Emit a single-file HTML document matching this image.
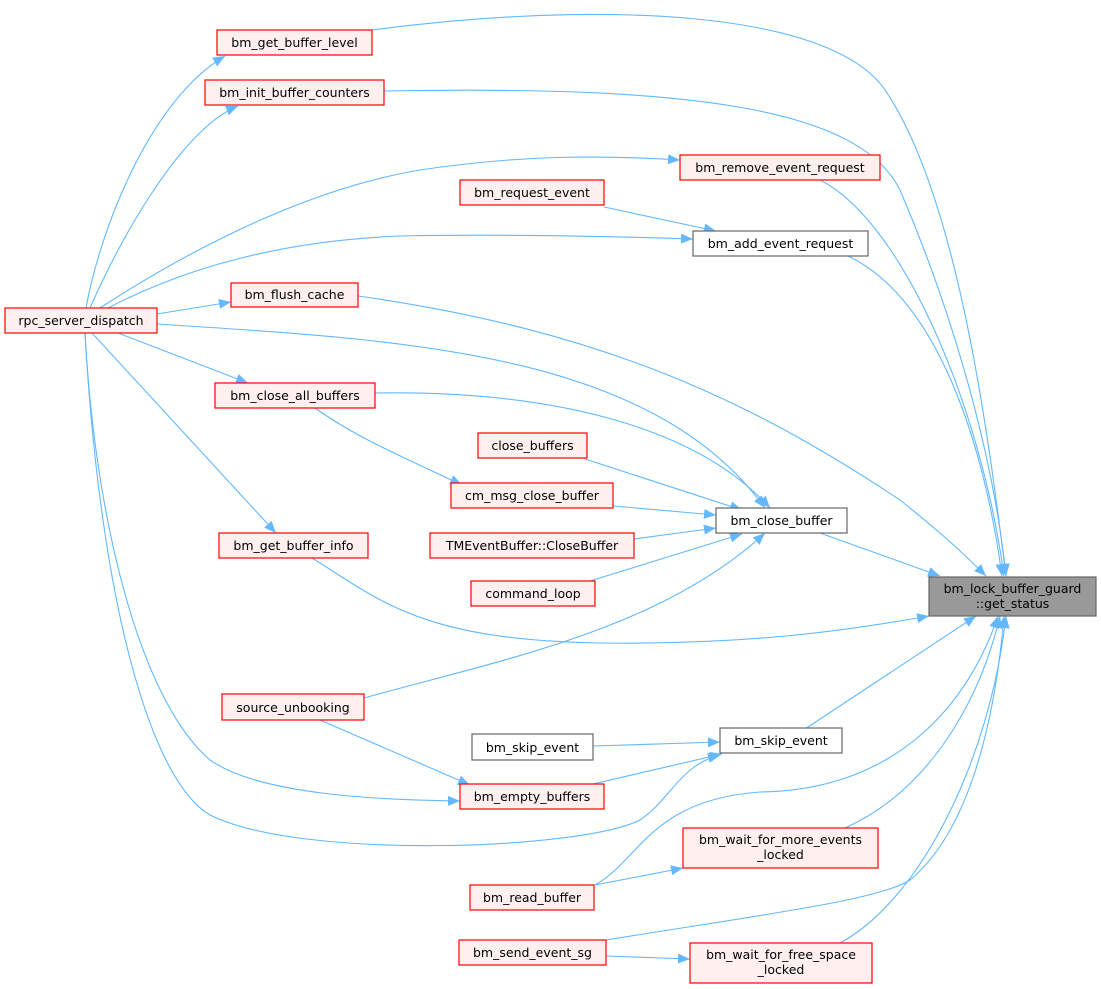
<!DOCTYPE html>
<html><head><meta charset="utf-8"><style>
html,body{margin:0;padding:0;background:#fff;}
svg{display:block;}
text{font-family:"DejaVu Sans","Liberation Sans",sans-serif;font-size:12.5px;fill:#000;}
.r{fill:#fff0f0;stroke:#ff0000;stroke-width:1.2;}
.w{fill:#fff;stroke:#666;stroke-width:1.2;}
.g{fill:#999;stroke:#666;stroke-width:1.2;}
.e{fill:none;stroke:#63b8ff;stroke-width:1.1;}
</style></head><body>
<svg width="1101" height="989" viewBox="0 0 1101 989" xmlns="http://www.w3.org/2000/svg">
<defs><marker id="a" viewBox="0 0 12 10" refX="12" refY="5" markerWidth="12" markerHeight="10" markerUnits="userSpaceOnUse" orient="auto"><path d="M0,0 L12,5 L0,10 z" fill="#63b8ff"/></marker></defs>
<g marker-end="url(#a)">
<path class="e" d="M86,308 C100,230 150,100 225,56"/>
<path class="e" d="M90,308 C120,240 180,130 238,106"/>
<path class="e" d="M100,308 C220,230 330,185 420,170 C520,155 600,155 680,160"/>
<path class="e" d="M108,308 C200,260 300,240 400,236 C500,234 600,236 693,239"/>
<path class="e" d="M157,314 L231,302"/>
<path class="e" d="M157,324 C400,340 650,350 765,508"/>
<path class="e" d="M118,333 L248,383"/>
<path class="e" d="M92,333 L276,533"/>
<path class="e" d="M85,333 C95,520 140,700 210,760 C260,795 380,800 460,801"/>
<path class="e" d="M85,333 C100,600 150,780 210,815 C300,860 580,850 640,820 C670,800 680,765 720,755"/>
<path class="e" d="M604,207 L716,231"/>
<path class="e" d="M315,408 C360,440 410,460 462,485"/>
<path class="e" d="M375,393 C560,390 700,430 770,508"/>
<path class="e" d="M585,459 L742,510"/>
<path class="e" d="M613,506 L716,515"/>
<path class="e" d="M634,539 L716,528"/>
<path class="e" d="M590,581 L742,534"/>
<path class="e" d="M364,698 C500,660 660,630 765,533"/>
<path class="e" d="M320,720 L470,785"/>
<path class="e" d="M593,746 L720,742"/>
<path class="e" d="M593,784 L722,754"/>
<path class="e" d="M372,30 C600,0 830,10 885,90 C960,200 990,450 1006,576"/>
<path class="e" d="M384,91 C700,85 860,110 900,190 C960,330 995,470 1006,576"/>
<path class="e" d="M820,180 C900,220 980,400 1004,576"/>
<path class="e" d="M848,256 C940,300 985,450 1002,576"/>
<path class="e" d="M358,296 C600,330 750,400 900,500 C950,540 970,560 986,576"/>
<path class="e" d="M820,533 L940,576"/>
<path class="e" d="M312,558 C380,600 420,640 600,643 C750,645 850,630 929,616"/>
<path class="e" d="M805,729 L976,616"/>
<path class="e" d="M595,885 C640,860 650,800 760,792 C900,790 970,700 998,616"/>
<path class="e" d="M845,828 C930,790 980,700 1000,616"/>
<path class="e" d="M606,940 C760,915 880,900 910,880 C970,830 995,720 1004,616"/>
<path class="e" d="M840,943 C920,900 990,760 1006,616"/>
<path class="e" d="M595,885 L683,868"/>
<path class="e" d="M606,956 L690,959"/>
</g>
<rect class="r" x="217" y="30" width="155" height="25"/><text x="294.5" y="47" text-anchor="middle">bm_get_buffer_level</text>
<rect class="r" x="205" y="80" width="179" height="25"/><text x="294.5" y="97" text-anchor="middle">bm_init_buffer_counters</text>
<rect class="r" x="680" y="155" width="200" height="25"/><text x="780" y="172" text-anchor="middle">bm_remove_event_request</text>
<rect class="r" x="460" y="180" width="144" height="25"/><text x="532" y="197" text-anchor="middle">bm_request_event</text>
<rect class="w" x="693" y="231" width="175" height="25"/><text x="780.5" y="248" text-anchor="middle">bm_add_event_request</text>
<rect class="r" x="231" y="283" width="127" height="24"/><text x="294.5" y="299" text-anchor="middle">bm_flush_cache</text>
<rect class="r" x="5" y="308" width="152" height="25"/><text x="81" y="325" text-anchor="middle">rpc_server_dispatch</text>
<rect class="r" x="215" y="383" width="160" height="25"/><text x="295" y="400" text-anchor="middle">bm_close_all_buffers</text>
<rect class="r" x="478" y="433" width="109" height="25"/><text x="532.5" y="450" text-anchor="middle">close_buffers</text>
<rect class="r" x="451" y="483" width="162" height="25"/><text x="532" y="500" text-anchor="middle">cm_msg_close_buffer</text>
<rect class="w" x="716" y="508" width="131" height="25"/><text x="781.5" y="525" text-anchor="middle">bm_close_buffer</text>
<rect class="r" x="430" y="533" width="204" height="25"/><text x="532" y="550" text-anchor="middle">TMEventBuffer::CloseBuffer</text>
<rect class="r" x="219" y="533" width="149" height="25"/><text x="293.5" y="550" text-anchor="middle">bm_get_buffer_info</text>
<rect class="r" x="471" y="581" width="124" height="25"/><text x="533" y="598" text-anchor="middle">command_loop</text>
<rect class="g" x="929" y="577" width="167" height="39"/><text x="1012.5" y="593" text-anchor="middle">bm_lock_buffer_guard</text><text x="1012.5" y="608" text-anchor="middle">::get_status</text>
<rect class="r" x="222" y="694" width="142" height="26"/><text x="293" y="712" text-anchor="middle">source_unbooking</text>
<rect class="w" x="472" y="734" width="121" height="26"/><text x="532.5" y="752" text-anchor="middle">bm_skip_event</text>
<rect class="w" x="720" y="728" width="122" height="25"/><text x="781" y="745" text-anchor="middle">bm_skip_event</text>
<rect class="r" x="460" y="784" width="144" height="25"/><text x="532" y="801" text-anchor="middle">bm_empty_buffers</text>
<rect class="r" x="683" y="828" width="195" height="40"/><text x="780.5" y="844" text-anchor="middle">bm_wait_for_more_events</text><text x="780.5" y="859" text-anchor="middle">_locked</text>
<rect class="r" x="470" y="885" width="124" height="25"/><text x="532" y="902" text-anchor="middle">bm_read_buffer</text>
<rect class="r" x="459" y="940" width="147" height="25"/><text x="532.5" y="957" text-anchor="middle">bm_send_event_sg</text>
<rect class="r" x="690" y="943" width="182" height="40"/><text x="781" y="959" text-anchor="middle">bm_wait_for_free_space</text><text x="781" y="974" text-anchor="middle">_locked</text>
</svg>
</body></html>
